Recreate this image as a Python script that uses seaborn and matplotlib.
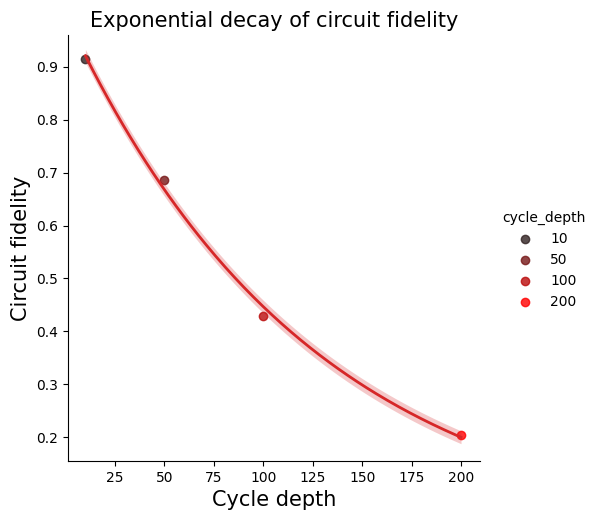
import numpy as np
import pandas as pd
import seaborn as sns
import matplotlib
matplotlib.use("Agg")
import matplotlib.pyplot as plt

# datos
cycle_depth = [10, 50, 100, 200]
fidelity = [0.915, 0.686, 0.429, 0.204]

df = pd.DataFrame({"cycle_depth": cycle_depth, "fidelity": fidelity})

g = sns.lmplot(data=df, x="cycle_depth", y="fidelity", hue="cycle_depth",
               palette="dark:red", fit_reg=False, height=5)

# ajuste exponencial y = a * exp(-b x)
x = np.array(cycle_depth, dtype=float)
y = np.array(fidelity)
coef = np.polyfit(x, np.log(y), 1, w=np.sqrt(y))
resid = y - np.exp(np.polyval(coef, x))
s = np.sqrt((resid ** 2).sum() / (len(x) - 2))
xx = np.linspace(x.min(), x.max(), 200)
yy = np.exp(np.polyval(coef, xx))
ax = g.ax
ax.plot(xx, yy, color="tab:red", lw=2)
ax.fill_between(xx, yy - 0.65 * s, yy + 0.65 * s,
                color="tab:red", alpha=0.25, lw=0)

ax.set_xlim(1.2, 209.6)
ax.set_ylim(0.155, 0.96)
ax.set_xlabel("Cycle depth", fontsize=15)
ax.set_ylabel("Circuit fidelity", fontsize=15)
ax.set_title("Exponential decay of circuit fidelity", fontsize=15)

g.figure.set_size_inches(5.98, 5.2)
g.figure.subplots_adjust(left=68/598, right=480/598, top=1-35/520, bottom=1-461/520)

plt.savefig("out.png", dpi=100)
